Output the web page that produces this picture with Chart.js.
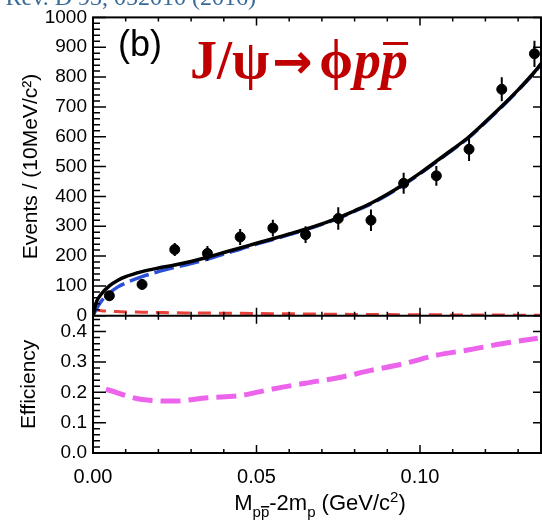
<!DOCTYPE html>
<html>
<head>
<meta charset="utf-8">
<script src="https://cdn.jsdelivr.net/npm/chart.js@4.4.1/dist/chart.umd.min.js"></script>
<style>
  html, body { margin: 0; padding: 0; background: #fff; }
  canvas { display: block; }
</style>
</head>
<body>
<canvas id="spectrum" width="542" height="523"></canvas>
<script>
// p pbar mass spectrum near threshold, J/psi -> phi p pbar
const massBins = [0.005, 0.015, 0.025, 0.035, 0.045, 0.055, 0.065, 0.075, 0.085, 0.095, 0.105, 0.115, 0.125, 0.135];
const events = [67, 105, 222, 209, 264, 294, 272, 326, 320, 444, 469, 558, 759, 878];
const eventErrors = [15, 17, 22, 25, 27, 28, 28, 38, 36, 35, 33, 39, 40, 44];

// fit curves
const fitMass = [0, 0.001, 0.0025, 0.005, 0.0075, 0.01,
  0.015, 0.02, 0.025, 0.03, 0.035, 0.04, 0.045, 0.05, 0.055, 0.06, 0.065, 0.07, 0.075,
  0.08, 0.085, 0.09, 0.095, 0.10, 0.105, 0.11, 0.115, 0.12, 0.125, 0.13, 0.135, 0.137];
const totalFit = [0, 45, 72, 100, 118, 131,
  148, 160, 170, 182, 196, 212, 227, 243, 258, 274, 290, 308, 328,
  352, 377, 407, 441, 478, 518, 558, 600, 650, 702, 757, 817, 845];
const signalFit = [0, 22, 48, 76, 96, 110,
  131, 148, 162, 175, 190, 207, 223, 240, 255, 272, 288, 306, 326,
  350, 375, 405, 439, 476, 516, 556, 598, 648, 700, 755, 815, 843];
const bkgFit = [20, 19, 17, 15, 14, 13,
  12, 11, 10, 9.5, 9, 8.5, 8, 7.5, 7, 6.5, 6, 5.5, 5,
  4.6, 4.3, 4, 3.7, 3.4, 3.1, 2.9, 2.7, 2.5, 2.3, 2.1, 2, 2];

// detection efficiency
const effMass = [0.004, 0.015, 0.025, 0.035, 0.045, 0.055, 0.065, 0.075, 0.085, 0.095, 0.105, 0.115, 0.125, 0.136];
const efficiency = [0.21, 0.176, 0.171, 0.182, 0.189, 0.211, 0.230, 0.248, 0.272, 0.294, 0.322, 0.340, 0.360, 0.378];

const massTicks = [0, 0.05, 0.10];
const eventTicks = [0, 100, 200, 300, 400, 500, 600, 700, 800, 900, 1000];
const effTicks = [0, 0.1, 0.2, 0.3, 0.4];

const SANS = '"Liberation Sans", Arial, Helvetica, sans-serif';
const SERIF = '"Liberation Serif", "Times New Roman", serif';

Chart.defaults.font.family = SANS;
Chart.defaults.color = '#000';

function toPoints(xs, ys) {
  return xs.map((x, i) => ({ x: x, y: ys[i] }));
}

// error bars, inward tick marks and the two framed panels
const framePlugin = {
  id: 'frame',
  afterDraw(chart) {
    const { ctx, chartArea: area, scales: { x, y, y2 } } = chart;
    const mid = y.getPixelForValue(0);
    ctx.save();
    ctx.strokeStyle = '#000';

    ctx.lineWidth = 2;
    ctx.beginPath();
    massBins.forEach((m, i) => {
      const px = x.getPixelForValue(m);
      ctx.moveTo(px, y.getPixelForValue(events[i] - eventErrors[i]));
      ctx.lineTo(px, y.getPixelForValue(events[i] + eventErrors[i]));
    });
    ctx.stroke();

    ctx.lineWidth = 1.5;
    ctx.beginPath();
    for (let k = 0; k <= 13; k++) {
      const px = x.getPixelForValue(k / 100);
      const len = k % 5 === 0 ? 8 : 4;
      ctx.moveTo(px, area.top); ctx.lineTo(px, area.top + len);
      ctx.moveTo(px, mid - len); ctx.lineTo(px, mid + len);
      ctx.moveTo(px, area.bottom); ctx.lineTo(px, area.bottom - len);
    }
    for (let v = 0; v <= 1000; v += 20) {
      const py = y.getPixelForValue(v);
      const major = v % 100 === 0;
      ctx.moveTo(area.left, py); ctx.lineTo(area.left + (major ? 13 : 7), py);
      if (major) { ctx.moveTo(area.right, py); ctx.lineTo(area.right - 8, py); }
    }
    for (let k = 0; k <= 22; k++) {
      const py = y2.getPixelForValue(k * 0.02);
      const major = k % 5 === 0;
      ctx.moveTo(area.left, py); ctx.lineTo(area.left + (major ? 13 : 7), py);
      if (major) { ctx.moveTo(area.right, py); ctx.lineTo(area.right - 8, py); }
    }
    ctx.stroke();

    ctx.lineWidth = 2;
    ctx.strokeRect(area.left, area.top, area.width, area.height);
    ctx.beginPath();
    ctx.moveTo(area.left, mid); ctx.lineTo(area.right, mid);
    ctx.stroke();
    ctx.restore();
  }
};

function drawRuns(ctx, runs, x, baseline) {
  runs.forEach(r => {
    ctx.font = r.font;
    const w = ctx.measureText(r.text).width;
    ctx.fillText(r.text, x, baseline + (r.dy || 0));
    if (r.bar) {
      const pw = ctx.measureText(r.text.slice(-1)).width;
      ctx.fillRect(x + w - pw + r.bar.inset, baseline + (r.dy || 0) + r.bar.dy, pw - r.bar.inset, r.bar.h);
    }
    x += w + (r.gap || 0);
  });
  return x;
}

function runsWidth(ctx, runs) {
  return runs.reduce((s, r) => { ctx.font = r.font; return s + ctx.measureText(r.text).width + (r.gap || 0); }, 0);
}

const labelPlugin = {
  id: 'labels',
  afterDraw(chart) {
    const ctx = chart.ctx;
    ctx.save();
    ctx.textBaseline = 'alphabetic';

    // slide citation, cut by the top edge
    ctx.fillStyle = '#3a6a98';
    ctx.font = '24px ' + SERIF;
    ctx.textAlign = 'right';
    ctx.fillText('Phys. Rev. D 93, 052010 (2016)', 256, 5);

    ctx.textAlign = 'left';
    ctx.fillStyle = '#000';
    ctx.font = '36px ' + SANS;
    ctx.fillText('(b)', 118, 56);

    // decay channel
    ctx.fillStyle = '#c00000';
    drawRuns(ctx, [
      { text: 'J/ψ', font: 'bold 54px ' + SERIF, gap: 3 },
      { text: '→', font: 'bold 48px "DejaVu Sans"', gap: 7 },
      { text: 'ϕ', font: 'bold 54px ' + SERIF, gap: 1 },
      { text: 'pp', font: 'bold italic 54px ' + SERIF, bar: { inset: 2, dy: -36, h: 3 } }
    ], 190, 78);

    // mass axis title
    ctx.fillStyle = '#000';
    const main = '22px ' + SANS, sub = '15px ' + SANS;
    const title = [
      { text: 'M', font: main },
      { text: 'pp', font: sub, dy: 7, bar: { inset: 0, dy: -11, h: 1.5 } },
      { text: '-2m', font: main },
      { text: 'p', font: sub, dy: 7 },
      { text: ' (GeV/c', font: main },
      { text: '2', font: sub, dy: -8 },
      { text: ')', font: main }
    ];
    drawRuns(ctx, title, 320 - runsWidth(ctx, title) / 2, 510);
    ctx.restore();
  }
};

const curve = {
  showLine: true,
  pointRadius: 0,
  pointHoverRadius: 0,
  fill: false,
  cubicInterpolationMode: 'monotone'
};

new Chart(document.getElementById('spectrum'), {
  type: 'scatter',
  data: {
    datasets: [
      {
        label: 'Data', data: toPoints(massBins, events), yAxisID: 'y',
        pointRadius: 5, pointBackgroundColor: '#000', pointBorderColor: '#000', pointBorderWidth: 1
      },
      Object.assign({
        label: 'Total fit', data: toPoints(fitMass, totalFit), yAxisID: 'y',
        borderColor: '#000', borderWidth: 3.5
      }, curve),
      Object.assign({
        label: 'Signal', data: toPoints(fitMass, signalFit), yAxisID: 'y',
        borderColor: '#2b4fd6', borderWidth: 3.5, borderDash: [20, 6]
      }, curve),
      Object.assign({
        label: 'Background', data: toPoints(fitMass, bkgFit), yAxisID: 'y',
        borderColor: '#e8413a', borderWidth: 3, borderDash: [13, 8]
      }, curve),
      Object.assign({
        label: 'Efficiency', data: toPoints(effMass, efficiency), yAxisID: 'y2',
        borderColor: '#ec63ec', borderWidth: 5, borderDash: [20, 8]
      }, curve)
    ]
  },
  options: {
    responsive: false,
    animation: false,
    devicePixelRatio: 1,
    events: [],
    layout: { padding: { top: 15, right: 1, bottom: 0, left: 0 }, autoPadding: false },
    plugins: { legend: { display: false }, tooltip: { enabled: false } },
    scales: {
      x: {
        type: 'linear', position: 'bottom', min: 0, max: 0.137,
        afterFit: s => { s.height = 70; },
        afterBuildTicks: s => { s.ticks = massTicks.map(v => ({ value: v })); },
        grid: { display: false, drawTicks: false },
        border: { display: false },
        ticks: { font: { size: 20 }, padding: 12, maxRotation: 0, autoSkip: false, callback: v => v.toFixed(2) }
      },
      // upper panel: event counts
      y: {
        type: 'linear', position: 'left', stack: 'panels', stackWeight: 300, weight: 1, offset: false,
        min: 0, max: 1000,
        afterFit: s => { s.width = 93; },
        afterBuildTicks: s => { s.ticks = eventTicks.map(v => ({ value: v })); },
        grid: { display: false, drawTicks: false },
        border: { display: false },
        ticks: { font: { size: 19 }, padding: 6, autoSkip: false, callback: v => String(v) },
        title: { display: true, text: 'Events / (10MeV/c²)', font: { size: 21 }, padding: { top: 19, bottom: 0 } }
      },
      // lower panel: efficiency
      y2: {
        type: 'linear', position: 'left', stack: 'panels', stackWeight: 138, weight: 0, offset: false,
        min: 0, max: 0.452,
        afterFit: s => { s.width = 93; },
        afterBuildTicks: s => { s.ticks = effTicks.map(v => ({ value: v })); },
        grid: { display: false, drawTicks: false },
        border: { display: false },
        ticks: { font: { size: 19 }, padding: 6, autoSkip: false, callback: v => v.toFixed(1) },
        title: { display: true, text: 'Efficiency', font: { size: 21 }, padding: { top: 17, bottom: 0 } }
      }
    }
  },
  plugins: [framePlugin, labelPlugin]
});
</script>
</body>
</html>
